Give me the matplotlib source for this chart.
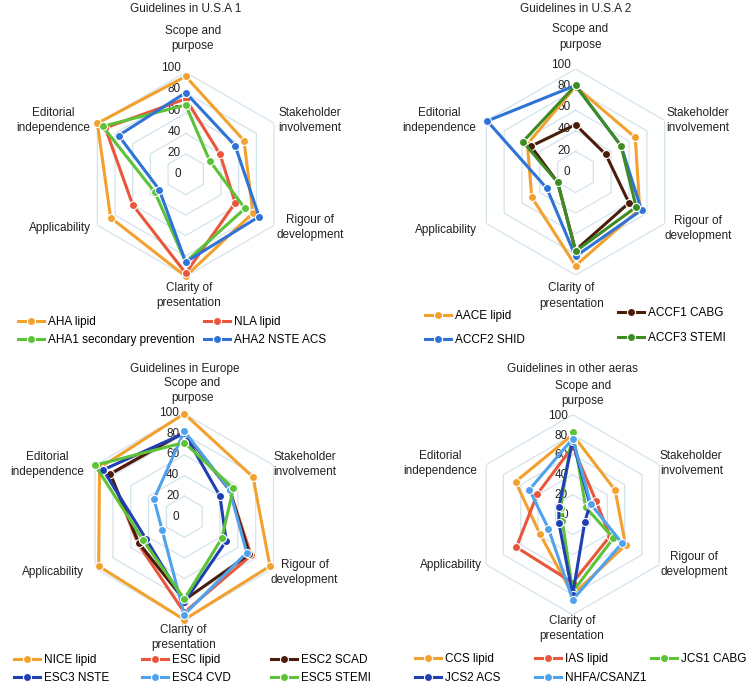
import numpy as np
import matplotlib
matplotlib.use("Agg")
import matplotlib.pyplot as plt

plt.rcParams['font.family'] = ['Liberation Sans', 'DejaVu Sans']

# Data (AGREE II domain scores)
categories = ["Scope and\npurpose", "Stakeholder\ninvolvement", "Rigour of\ndevelopment",
              "Clarity of\npresentation", "Applicability", "Editorial\nindependence"]
ticks = [0, 20, 40, 60, 80, 100]

usa1_names = ["AHA lipid", "NLA lipid", "AHA1 secondary prevention", "AHA2 NSTE ACS"]
aha_lipid = [96, 66, 76, 100, 85, 100]
nla_lipid = [74, 39, 56, 97, 60, 91]
aha1_secondary = [68, 27, 67, 86, 35, 94]
aha2_nste = [80, 56, 83, 86, 30, 76]

usa2_names = ["AACE lipid", "ACCF1 CABG", "ACCF2 SHID", "ACCF3 STEMI"]
aace_lipid = [83, 67, 72, 91, 49, 54]
accf1_cabg = [46, 34, 60, 76, 20, 50]
accf2_shid = [84, 51, 74, 82, 32, 99]
accf3_stemi = [84, 51, 68, 77, 20, 59]

europe_names = ["NICE lipid", "ESC lipid", "ESC2 SCAD", "ESC3 NSTE", "ESC4 CVD", "ESC5 STEMI"]
nice_lipid = [100, 77, 96, 100, 96, 95]
esc_lipid = [82, 51, 75, 93, 52, 83]
esc2_scad = [82, 51, 73, 81, 51, 83]
esc3_nste = [81, 40, 47, 83, 43, 91]
esc4_cvd = [83, 51, 70, 95, 25, 34]
esc5_stemi = [72, 55, 42, 80, 46, 100]

other_names = ["CCS lipid", "IAS lipid", "JCS1 CABG", "JCS2 ACS", "NHFA/CSANZ1"]
ccs_lipid = [80, 49, 61, 80, 38, 66]
ias_lipid = [68, 27, 43, 68, 65, 41]
jcs1_cabg = [83, 15, 47, 77, 12, 14]
jcs2_acs = [74, 20, 14, 80, 16, 16]
nhfa_csanz1 = [76, 21, 57, 85, 28, 50]

# Colours
orange = '#F2A12E'
red = '#E9563B'
green = '#5CC236'
blue = '#2F73D6'
brown = '#4A1D0B'
dkgreen = '#3C8B23'
navy = '#1F3FB3'
ltblue = '#4FA2EB'
gridc = '#D3E3EC'
textc = '#222222'
fs = 8.5

W, H = 746, 687
fig = plt.figure(figsize=(W / 100, H / 100), dpi=100)
fig.patch.set_facecolor('white')

angles = np.linspace(0, 2 * np.pi, len(categories), endpoint=False)
closed = np.append(angles, angles[0])


def radar(center, R, title, title_y, names, series, colors, label_offsets, legend_xy, lift):
    cx, cy = center
    ax = fig.add_axes([(cx - R) / W, 1 - (cy + R) / H, 2 * R / W, 2 * R / H], projection='polar')
    ax.set_theta_offset(np.pi / 2)
    ax.set_theta_direction(-1)
    ax.set_ylim(0, 100)
    ax.grid(False)
    ax.set_xticks([])
    ax.set_yticks([])
    ax.spines['polar'].set_visible(False)
    ax.patch.set_visible(False)

    # hexagonal gridlines
    for lev in ticks[1:]:
        ax.plot(closed, [lev] * len(closed), color=gridc, lw=0.9, zorder=1)

    # tick labels left of the vertical axis
    for v in ticks:
        ax.annotate(str(v), xy=(0, v), xytext=(-5, lift * v / 100), textcoords='offset pixels',
                    ha='right', va='center', fontsize=fs, color=textc, zorder=2)

    # category labels
    for a, cat, off in zip(angles, categories, label_offsets):
        ax.annotate(cat, xy=(a, 100), xytext=off, textcoords='offset pixels',
                    ha='center', va='center', fontsize=fs, color=textc, linespacing=1.35)

    handles = []
    for name, vals, col in zip(names, series, colors):
        ln, = ax.plot(closed, list(vals) + [vals[0]], color=col, lw=2.2, marker='o', ms=5.8,
                      mfc=col, mec='white', mew=0.8, clip_on=False, zorder=3, label=name)
        handles.append(ln)

    fig.text(cx / W, 1 - title_y / H, title, ha='center', va='center', fontsize=fs, color=textc)

    for h, name, (x, y) in zip(handles, names, legend_xy):
        fig.legend([h], [name], loc='center left', bbox_to_anchor=(x / W, 1 - y / H),
                   frameon=False, borderpad=0, borderaxespad=0, handlelength=2.2,
                   handletextpad=0.3, fontsize=fs)


radar((185.7, 174.3), 102, "Guidelines in U.S.A 1", 9,
      usa1_names, [aha_lipid, nla_lipid, aha1_secondary, aha2_nste],
      [orange, red, green, blue],
      [(7, 34), (36, 3), (36, -2), (3, -19), (-37, -3), (-44, 3)],
      [(18, 321.7), (204, 321.7), (18, 340), (204, 340)], 4)

radar((575.5, 172), 103, "Guidelines in U.S.A 2", 9,
      usa2_names, [aace_lipid, accf1_cabg, accf2_shid, accf3_stemi],
      [orange, brown, blue, dkgreen],
      [(5, 32), (33, 0), (33, -5), (-4, -21), (-40, -6), (-47, 0)],
      [(425, 316), (618, 313), (425, 340), (618, 338)], 4.5)

radar((184.3, 516.7), 103, "Guidelines in Europe", 369.3,
      europe_names, [nice_lipid, esc_lipid, esc2_scad, esc3_nste, esc4_cvd, esc5_stemi],
      [orange, red, brown, navy, ltblue, green],
      [(8, 23), (31, 1), (31, -4), (-1, -18), (-42, -4), (-48, 1)],
      [(14, 660), (142, 660), (271, 660), (14, 678), (142, 678), (271, 678)], 1)

radar((572.7, 514.7), 100, "Guidelines in other aeras", 369.3,
      other_names, [ccs_lipid, ias_lipid, jcs1_cabg, jcs2_acs, nhfa_csanz1],
      [orange, red, green, navy, ltblue],
      [(10, 21), (32, 1), (35, 0), (-1, -14), (-35, 0), (-46, 1)],
      [(415, 659), (535, 659), (651, 659), (415, 678), (535, 678)], -1)

fig.savefig("out.png", dpi=100, facecolor='white')
